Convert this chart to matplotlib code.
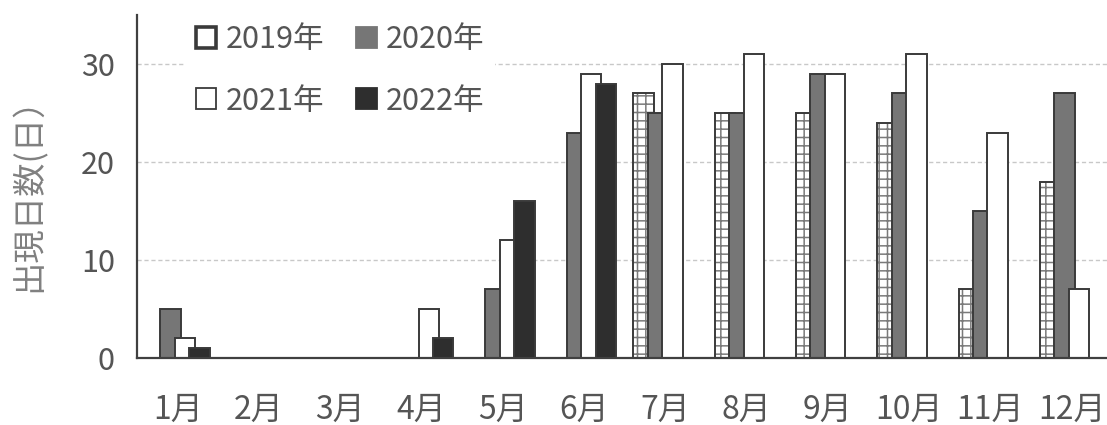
import numpy as np
import matplotlib
matplotlib.use('Agg')
import matplotlib.pyplot as plt
from matplotlib.patches import Patch

plt.rcParams['font.family'] = ['Noto Sans CJK JP', 'DejaVu Sans']
plt.rcParams['hatch.linewidth'] = 1.1

months = ['1月', '2月', '3月', '4月', '5月', '6月',
          '7月', '8月', '9月', '10月', '11月', '12月']
years = ['2019年', '2020年', '2021年', '2022年']

nan = np.nan
days_2019 = [nan, nan, nan, nan, nan, nan, 27, 25, 25, 24, 7, 18]
days_2020 = [5, 0, 0, 0, 7, 23, 25, 25, 29, 27, 15, 27]
days_2021 = [2, 0, 0, 5, 12, 29, 30, 31, 29, 31, 23, 7]
days_2022 = [1, 0, 0, 2, 16, 28, nan, nan, nan, nan, nan, nan]

edge = '#3a3a3a'
txt = '#555555'

fig = plt.figure(figsize=(11.07, 4.25), dpi=100)
ax = fig.add_axes([0.1238, 0.1576, 0.881, 0.8071])

x = np.arange(len(months))
step = 0.178
w = 0.25
offs = (np.arange(4) - 1.5) * step

# 2019: hatched fill, then outline on top
ax.bar(x + offs[0], days_2019, w, color='white', edgecolor='#7a7a7a',
       hatch='++', linewidth=0, zorder=2)
ax.bar(x + offs[0], days_2019, w, fill=False, edgecolor=edge, linewidth=1.4, zorder=2.1)
ax.bar(x + offs[1], days_2020, w, color='#767676', edgecolor=edge, linewidth=1.4, zorder=3)
ax.bar(x + offs[2], days_2021, w, color='white', edgecolor=edge, linewidth=1.4, zorder=4)
ax.bar(x + offs[3], days_2022, w, color='#2e2e2e', edgecolor=edge, linewidth=1.4, zorder=5)

ax.set_xlim(-0.5, 11.5)
ax.set_ylim(0, 35)
ax.set_yticks([0, 10, 20, 30])
ax.set_xticks(x)
ax.set_xticklabels(months)
ax.yaxis.grid(True, color='#c8c8c8', linestyle=(0, (3, 2)), linewidth=1.0)
ax.set_axisbelow(True)

for s in ['top', 'right']:
    ax.spines[s].set_visible(False)
for s in ['left', 'bottom']:
    ax.spines[s].set_color('#404040')
    ax.spines[s].set_linewidth(1.6)
    ax.spines[s].set_zorder(6)

ax.tick_params(axis='both', length=0, labelsize=22, colors=txt)
ax.tick_params(axis='x', labelsize=23, pad=26)
ax.tick_params(axis='y', pad=16)

ax.set_ylabel('出現日数(日）', fontsize=24, color='#808080')
ax.yaxis.set_label_coords(-0.093, 0.5)

handles = [
    Patch(facecolor='white', edgecolor=edge, linewidth=2.6),
    Patch(facecolor='white', edgecolor=edge, linewidth=1.3),
    Patch(facecolor='#767676', edgecolor='#767676', linewidth=1.3),
    Patch(facecolor='#2e2e2e', edgecolor='#2e2e2e', linewidth=1.3),
]
labels = [years[0], years[2], years[1], years[3]]
leg = ax.legend(handles, labels, ncol=2, loc='upper left',
                bbox_to_anchor=(0.049, 1.005), fontsize=22,
                frameon=True, facecolor='white', edgecolor='none',
                framealpha=1, fancybox=False, borderpad=0.35,
                handlelength=0.68, handleheight=0.68, handletextpad=0.3,
                columnspacing=1.05, labelspacing=1.0, borderaxespad=0)
for t in leg.get_texts():
    t.set_color(txt)
leg.set_zorder(7)

fig.savefig('out.png', dpi=100)
